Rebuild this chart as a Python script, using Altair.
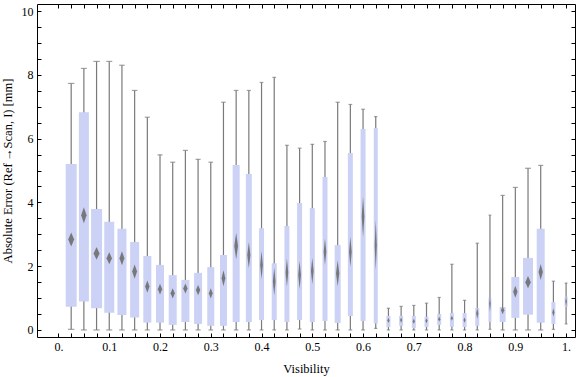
import altair as alt
import pandas as pd

# ---------------- data ----------------
visibility = [0.025, 0.05, 0.075, 0.1, 0.125, 0.15, 0.175, 0.2,
              0.225, 0.25, 0.275, 0.3, 0.325, 0.35, 0.375, 0.4,
              0.425, 0.45, 0.475, 0.5, 0.525, 0.55, 0.575, 0.6,
              0.625, 0.65, 0.675, 0.7, 0.725, 0.75, 0.775, 0.8,
              0.825, 0.85, 0.875, 0.9, 0.925, 0.95, 0.975, 1.0]

whisker_low = [0.02, 0, 0, 0, 0, 0, 0, 0,
               0, 0, 0, 0, 0, 0, 0, 0,
               0, 0, 0.03, 0, 0, 0, 0, 0,
               0.05, 0, 0, 0, 0, 0, 0, 0,
               0, 0.02, 0, 0, 0, 0, 0.02, 0.19]

quartile1 = [0.73, 0.89, 0.68, 0.54, 0.47, 0.39, 0.23, 0.23,
             0.16, 0.25, 0.19, 0.13, 0.13, 0.25, 0.25, 0.31,
             0.31, 0.25, 0.31, 0.25, 0.28, 0.22, 0.44, 0.28,
             0.20, 0.09, 0.13, 0.06, 0.09, 0.16, 0.10, 0.09,
             0.13, 0.25, 0.25, 0.38, 0.48, 0.23, 0.19, 0.73]

median = [2.84, 3.60, 2.40, 2.25, 2.25, 1.83, 1.36, 1.28,
          1.15, 1.30, 1.25, 1.15, 1.62, 2.63, 2.35, 2.04,
          1.52, 1.80, 1.72, 1.85, 2.45, 1.78, 2.45, 3.55,
          2.66, 0.30, 0.31, 0.27, 0.29, 0.34, 0.37, 0.31,
          0.52, 0.82, 0.62, 1.20, 1.50, 1.82, 0.55, 0.89]

quartile3 = [5.20, 6.83, 3.79, 3.39, 3.17, 2.76, 2.32, 2.04,
             1.72, 1.57, 1.79, 1.97, 2.35, 5.17, 4.89, 3.19,
             2.09, 3.26, 3.98, 3.82, 4.80, 2.66, 5.55, 6.30,
             6.33, 0.44, 0.44, 0.44, 0.41, 0.50, 0.53, 0.53,
             0.69, 1.00, 0.72, 1.66, 2.26, 3.17, 0.88, 1.04]

whisker_high = [7.73, 8.20, 8.42, 8.42, 8.30, 7.51, 6.67, 5.49,
                5.26, 5.63, 5.35, 5.26, 7.14, 7.51, 7.51, 7.76,
                7.92, 5.79, 5.70, 5.82, 5.91, 7.14, 7.07, 6.92,
                6.69, 0.68, 0.74, 0.77, 0.84, 1.02, 2.06, 0.93,
                2.72, 3.60, 4.22, 4.47, 5.07, 5.16, 1.53, 1.47]

# half-height of the median confidence diamond (data units)
median_ci = [0.22, 0.25, 0.20, 0.19, 0.22, 0.22, 0.19, 0.17,
             0.16, 0.16, 0.16, 0.16, 0.25, 0.41, 0.41, 0.44,
             0.44, 0.44, 0.44, 0.41, 0.41, 0.41, 0.47, 0.63,
             0.78, 0.08, 0.08, 0.08, 0.08, 0.08, 0.08, 0.08,
             0.17, 0.24, 0.13, 0.19, 0.19, 0.25, 0.13, 0.16]

# relative sample weight of each bin (drives the box width)
relative_count = [11, 10, 11, 10, 9, 9, 8, 8,
                  8, 8, 8, 7, 7, 7, 6, 5,
                  5, 5, 5, 5, 5, 6, 5, 5,
                  4, 4, 4, 4, 4, 4, 4, 4,
                  4, 3, 6, 8, 10, 8, 4, 3]

x_ticks = [round(0.025 * i, 3) for i in range(41)]
y_ticks = [0.5 * i for i in range(21)]

# ---------------- layout / style ----------------
W, H = 538, 333
XMIN, XMAX = -0.0325, 1.0077
YMIN, YMAX = -0.22, 10.22
PX_PER_COUNT = 1.0
BOX_COLOR = "#cbd2f5"
WHISKER_COLOR = "#7a7a7a"
DIAMOND_COLOR = "#737373"
FONT = "Liberation Serif"

ppu_x = W / (XMAX - XMIN)

df = pd.DataFrame(dict(pos=visibility, lo=whisker_low, q1=quartile1, med=median,
                       q3=quartile3, hi=whisker_high, ci=median_ci, n=relative_count))
df["box_w"] = df["n"] * PX_PER_COUNT
df["cap_w"] = 0.45 * df["box_w"] + 1.5

rows = []
for i, r in df.iterrows():
    hw = 0.55 * r["box_w"] / 2.0 / ppu_x
    for k in (-1, 0, 1):
        f = 1 - abs(k)
        rows.append(dict(id=i, x=r["pos"] + k * hw,
                         ylo=r["med"] - r["ci"] * f, yhi=r["med"] + r["ci"] * f))
dia = pd.DataFrame(rows)

xscale = alt.Scale(domain=[XMIN, XMAX], nice=False, zero=False)
yscale = alt.Scale(domain=[YMIN, YMAX], nice=False, zero=False)

x_label_expr = ("abs(datum.value*10 - round(datum.value*10)) < 0.001 ? "
                "(datum.value == 0 ? '0.' : (datum.value == 1 ? '1.' : format(datum.value, '.1f'))) : ''")
y_label_expr = "datum.value % 2 == 0 ? format(datum.value, 'd') : ''"

common_axis = dict(domain=False, ticks=True, tickColor="black", tickSize=4, tickWidth=1,
                   offset=-4, grid=False, labelFont=FONT, labelFontSize=12,
                   labelColor="black", titleFont=FONT,
                   titleFontWeight="normal", titleColor="black")

x_bottom = alt.Axis(orient="bottom", values=x_ticks, labelExpr=x_label_expr,
                    labelPadding=4, title="Visibility", titlePadding=10, titleFontSize=12.5,
                    labelOverlap=False, **common_axis)
y_left = alt.Axis(orient="left", values=y_ticks, labelExpr=y_label_expr,
                  labelPadding=4, title="Absolute Error (Ref\u2009\u2192Scan, I) [mm]",
                  titlePadding=7, titleFontSize=12.5, labelOverlap=False, **common_axis)
x_top = alt.Axis(orient="top", values=x_ticks, labels=False, title=None,
                 domain=False, tickColor="black", tickSize=4, offset=-4, grid=False)
y_right = alt.Axis(orient="right", values=y_ticks, labels=False, title=None,
                   domain=False, tickColor="black", tickSize=4, offset=-4, grid=False)

base = alt.Chart(df)

whiskers = base.mark_rule(color=WHISKER_COLOR, strokeWidth=1.2, clip=True).encode(
    x=alt.X("pos:Q", scale=xscale, axis=x_bottom),
    y=alt.Y("lo:Q", scale=yscale, axis=y_left),
    y2="hi:Q",
)

boxes = base.mark_bar(color=BOX_COLOR, clip=True).encode(
    x=alt.X("pos:Q", scale=xscale, axis=x_top),
    y=alt.Y("q1:Q", scale=yscale, axis=y_right),
    y2="q3:Q",
    size=alt.Size("box_w:Q", scale=None, legend=None),
)

caps_lo = base.mark_tick(orient="horizontal", color=WHISKER_COLOR, thickness=1.2, clip=True).encode(
    x=alt.X("pos:Q", scale=xscale, axis=None),
    y=alt.Y("lo:Q", scale=yscale, axis=None),
    size=alt.Size("cap_w:Q", scale=None, legend=None),
)
caps_hi = base.mark_tick(orient="horizontal", color=WHISKER_COLOR, thickness=1.2, clip=True).encode(
    x=alt.X("pos:Q", scale=xscale, axis=None),
    y=alt.Y("hi:Q", scale=yscale, axis=None),
    size=alt.Size("cap_w:Q", scale=None, legend=None),
)

diamonds = alt.Chart(dia).mark_area(color=DIAMOND_COLOR, opacity=0.95, clip=True).encode(
    x=alt.X("x:Q", scale=xscale, axis=None),
    y=alt.Y("ylo:Q", scale=yscale, axis=None),
    y2="yhi:Q",
    detail="id:N",
)

chart = alt.layer(whiskers, boxes, caps_lo, caps_hi, diamonds).resolve_axis(
    x="independent", y="independent"
).properties(
    width=W, height=H,
    padding={"left": 37, "top": 4, "right": 1, "bottom": 40},
    autosize=alt.AutoSizeParams(type="none"),
    background="white",
).configure_view(stroke="black", strokeWidth=1)

chart.save("out.html", embed_options={"renderer": "svg", "actions": False})
